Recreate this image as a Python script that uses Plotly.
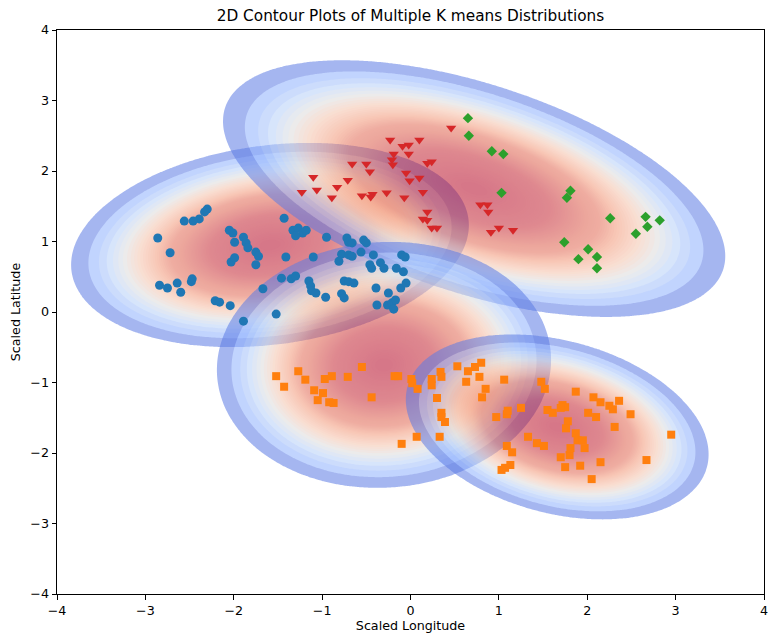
import numpy as np
import plotly.graph_objects as go

# ---- Gaussian components (means / covariances, scaled units) ----
dist_means = [(-1.59, 0.95), (0.72, 1.75), (-0.30, -0.75), (1.66, -1.63)]
dist_covs = [
    [[0.5625, 0.07], [0.07, 0.233]],
    [[0.897, -0.302], [-0.302, 0.368]],
    [[0.397, 0.015], [0.015, 0.338]],
    [[0.326, -0.074], [-0.074, 0.191]],
]

# ---- Cluster points ----
blue_x = [-2.30, -2.33, -2.39, -2.46, -2.56, -2.86, -2.72, -2.05, -2.01, -1.99, -1.89, -1.86, -1.84, -1.75,
          -1.72, -1.75, -2.03, -1.99, -1.43, -1.33, -1.27, -1.22, -1.30, -1.18, -1.41, -2.84, -2.75, -2.64,
          -2.60, -2.48, -2.47, -2.21, -2.16, -2.04, -1.89, -1.67, -1.46, -1.35, -1.30, -1.52, -1.10, -0.95,
          -0.72, -0.70, -0.66, -0.53, -0.50, -0.78, -0.81, -0.70, -0.66, -0.56, -0.42, -0.46, -0.44, -0.34,
          -0.30, -0.16, -0.08, -0.10, -0.06, -1.15, -1.13, -1.12, -1.07, -0.96, -0.78, -0.75, -0.75, -0.70,
          -0.64, -0.39, -0.25, -0.11, -0.05, -0.38, -0.26, -0.21, -0.17, -0.19]
blue_y = [1.46, 1.42, 1.32, 1.29, 1.29, 1.05, 0.84, 1.16, 1.12, 0.99, 1.06, 0.98, 0.91, 0.85,
          0.79, 0.67, 0.71, 0.77, 1.33, 1.16, 1.19, 1.12, 1.08, 1.16, 0.78, 0.38, 0.34, 0.41,
          0.28, 0.43, 0.47, 0.16, 0.14, 0.09, -0.13, 0.33, 0.48, 0.47, 0.51, -0.03, 0.78, 1.06,
          1.05, 0.99, 0.98, 1.02, 0.98, 0.82, 0.72, 0.81, 0.79, 0.85, 0.81, 0.67, 0.62, 0.70,
          0.62, 0.62, 0.57, 0.81, 0.78, 0.44, 0.37, 0.30, 0.27, 0.21, 0.26, 0.20, 0.44, 0.43,
          0.41, 0.34, 0.27, 0.34, 0.41, 0.10, 0.10, 0.13, 0.17, 0.04]

orange_x = [-1.52, -1.43, -1.27, -1.19, -1.09, -0.99, -1.05, -0.92, -0.87, -0.97, -0.89, -0.71, -0.55, -0.44,
            -0.18, -0.14, 0.01, 0.02, 0.08, 0.24, 0.24, 0.34, 0.35, 0.30, 0.53, 0.65, 0.73, 0.80,
            0.63, 0.78, 0.85, 0.81, 1.06, 0.35, 0.35, 0.39, 0.07, 0.33, -0.10, 0.97, 1.09, 1.10,
            1.25, 1.48, 1.52, 1.87, 2.07, 2.15, 2.25, 2.29, 2.36, 2.49, 2.31, 2.95, 1.55, 1.61,
            1.72, 1.75, 1.70, 1.78, 1.76, 2.01, 2.10, 1.33, 1.43, 1.51, 1.87, 1.89, 1.95, 1.97,
            1.09, 1.15, 1.70, 1.80, 1.81, 1.75, 1.92, 2.15, 2.67, 2.05, 1.13, 1.07, 1.03]
orange_y = [-0.91, -1.06, -0.84, -0.96, -1.11, -1.15, -1.25, -1.28, -1.29, -0.95, -0.91, -0.92, -0.78, -1.21,
            -0.91, -0.91, -0.95, -1.01, -1.09, -0.95, -1.04, -0.85, -0.92, -1.22, -0.77, -0.84, -0.78, -0.72,
            -0.99, -0.92, -1.09, -1.21, -0.96, -1.43, -1.49, -1.56, -1.77, -1.77, -1.87, -1.49, -1.45, -1.40,
            -1.36, -0.99, -1.09, -1.13, -1.21, -1.28, -1.33, -1.38, -1.26, -1.45, -1.63, -1.74, -1.39, -1.43,
            -1.32, -1.35, -1.36, -1.55, -1.65, -1.43, -1.49, -1.77, -1.86, -1.90, -1.72, -1.82, -1.82, -1.93,
            -1.90, -1.99, -2.06, -2.03, -1.93, -2.20, -2.18, -2.13, -2.10, -2.37, -2.17, -2.21, -2.24]

red_x = [0.46, -0.23, -0.09, -0.02, 0.10, -0.19, -0.02, -0.21, -0.20, 0.24, 0.19, -0.66, -0.50, -0.46,
         -0.05, -0.01, 0.10, -1.10, -0.71, -0.83, -1.06, -1.23, -0.89, -0.55, -0.43, -0.45, -0.27, 0.14,
         -0.07, 0.19, 0.14, 0.19, 0.24, 0.30, 0.79, 0.87, 0.88, 0.91, 1.00, 1.16]
red_y = [2.61, 2.44, 2.35, 2.37, 2.44, 2.24, 2.24, 2.16, 2.09, 2.13, 2.11, 2.10, 2.10, 1.99,
         1.97, 1.86, 1.90, 1.91, 1.87, 1.77, 1.73, 1.70, 1.62, 1.65, 1.67, 1.63, 1.69, 1.70,
         1.62, 1.42, 1.32, 1.30, 1.19, 1.19, 1.52, 1.52, 1.42, 1.13, 1.19, 1.16]

green_x = [0.65, 0.66, 0.92, 1.05, 1.03, 1.81, 1.77, 2.26, 2.66, 2.82, 2.68, 2.55, 1.74, 2.01, 1.90, 2.11, 2.11]
green_y = [2.75, 2.50, 2.28, 2.24, 1.69, 1.72, 1.62, 1.33, 1.35, 1.30, 1.21, 1.11, 0.99, 0.89, 0.75, 0.78, 0.62]

tick_vals = [-4, -3, -2, -1, 0, 1, 2, 3, 4]

# ---- coolwarm colormap (anchors) ----
cw_pos = [0.0, 0.125, 0.25, 0.375, 0.5, 0.625, 0.75, 0.875, 1.0]
cw_rgb = [(59, 76, 192), (98, 130, 234), (141, 176, 254), (184, 208, 249), (221, 220, 220),
          (245, 196, 173), (244, 154, 123), (222, 96, 77), (180, 4, 38)]


def coolwarm(p):
    p = min(max(p, 0.0), 1.0)
    r = np.interp(p, cw_pos, [c[0] for c in cw_rgb])
    g = np.interp(p, cw_pos, [c[1] for c in cw_rgb])
    b = np.interp(p, cw_pos, [c[2] for c in cw_rgb])
    return f"rgb({int(round(r))},{int(round(g))},{int(round(b))})"


# colour position as a function of relative radius (styling of the shading)
shade_f = [0.0, 0.30, 0.50, 0.66, 0.76, 0.86, 1.0]
shade_p = [1.0, 0.95, 0.85, 0.62, 0.45, 0.28, 0.16]

n_bands = 80
d_edge = 3.0
L0 = float(np.exp(-0.5 * d_edge ** 2))
step = (1.0 - L0) / n_bands
colorscale = [[0.0, "rgba(255,255,255,0)"]]
for k in range(n_bands):
    zm = L0 + (k + 0.5) * step
    f = np.sqrt(np.log(zm) / np.log(L0))
    pos = 0.11 if k == 0 else float(np.interp(f, shade_f, shade_p))
    colorscale.append([(k + 1) / n_bands, coolwarm(pos)])

gx = np.linspace(-4, 4, 321)
gy = np.linspace(-4, 4, 321)
GX, GY = np.meshgrid(gx, gy)

fig = go.Figure()
for mean, cov in zip(dist_means, dist_covs):
    inv = np.linalg.inv(np.array(cov))
    dx = GX - mean[0]
    dy = GY - mean[1]
    d2 = inv[0, 0] * dx * dx + 2 * inv[0, 1] * dx * dy + inv[1, 1] * dy * dy
    z = np.exp(-0.5 * d2)
    fig.add_trace(go.Contour(
        x=gx, y=gy, z=z,
        autocontour=False,
        contours=dict(start=L0, end=L0 + (n_bands - 1) * step, size=step, coloring="fill"),
        colorscale=colorscale,
        line=dict(width=0),
        showscale=False,
        opacity=0.55,
        hoverinfo="skip",
    ))

fig.add_trace(go.Scatter(x=blue_x, y=blue_y, mode="markers",
                         marker=dict(symbol="circle", size=9, color="#1f77b4")))
fig.add_trace(go.Scatter(x=orange_x, y=orange_y, mode="markers",
                         marker=dict(symbol="square", size=8, color="#ff7f0e")))
fig.add_trace(go.Scatter(x=green_x, y=green_y, mode="markers",
                         marker=dict(symbol="diamond", size=8, color="#2ca02c")))
fig.add_trace(go.Scatter(x=red_x, y=red_y, mode="markers",
                         marker=dict(symbol="triangle-down", size=9, color="#d62728")))

axis_common = dict(
    range=[-4, 4], tickvals=tick_vals, ticks="outside", ticklen=4.5, tickwidth=1,
    tickcolor="black", showline=True, linecolor="black", linewidth=1, mirror=True,
    showgrid=False, zeroline=False, tickfont=dict(size=12.7, color="black"),
    automargin=False, ticklabeloverflow="allow",
)
fig.update_layout(
    width=769, height=637,
    margin=dict(l=57, r=5, t=30, b=43),
    paper_bgcolor="white", plot_bgcolor="white",
    font=dict(family="DejaVu Sans", color="black"),
    showlegend=False,
    title=dict(text="2D Contour Plots of Multiple K means Distributions",
               font=dict(size=15.3, color="black"),
               x=0.5, xref="paper", xanchor="center",
               y=1 - 16 / 637, yref="container", yanchor="middle"),
    xaxis=dict(axis_common, title=dict(text="Scaled Longitude", font=dict(size=12.7), standoff=4)),
    yaxis=dict(axis_common, title=dict(text="Scaled Latitude", font=dict(size=12.7), standoff=6)),
)

# remove the browser's default 8px page margin so the figure fills the window
fig.write_html("out.html",
               config={"displayModeBar": False},
               post_script="document.body.style.margin='0';document.body.style.overflow='hidden';")
